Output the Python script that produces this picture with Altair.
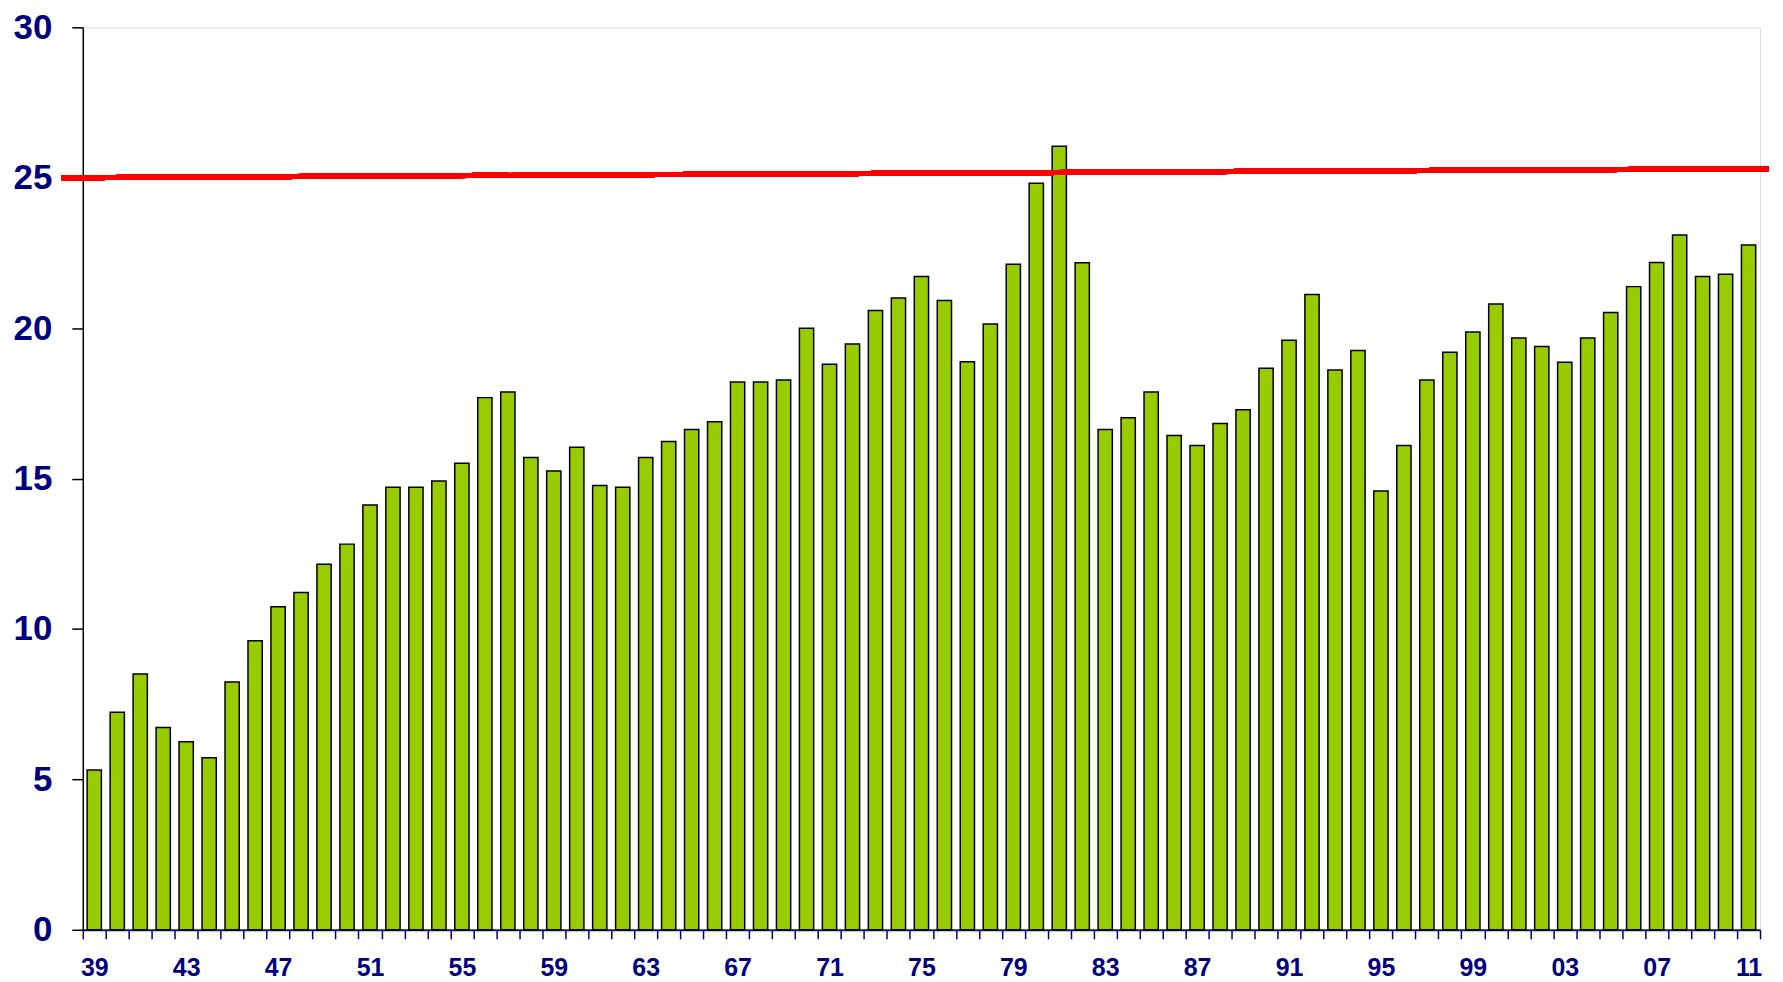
import json
import altair as alt
import pandas as pd

years = list(range(1939, 2012))
values = [
    5.31, 7.23, 8.50, 6.72, 6.25, 5.72, 8.24, 9.61, 10.74, 11.21,   # 39-48
    12.15, 12.82, 14.12, 14.71, 14.71, 14.92, 15.51, 17.69, 17.88, 15.70,  # 49-58
    15.25, 16.04, 14.77, 14.71, 15.70, 16.23, 16.63, 16.89, 18.21, 18.21,  # 59-68
    18.28, 20.00, 18.80, 19.47, 20.59, 21.00, 21.72, 20.92, 18.88, 20.14,  # 69-78
    22.12, 24.82, 26.05, 22.17, 16.63, 17.02, 17.88, 16.43, 16.10, 16.83,  # 79-88
    17.29, 18.67, 19.60, 21.12, 18.61, 19.26, 14.59, 16.10, 18.28, 19.20,  # 89-98
    19.87, 20.80, 19.67, 19.39, 18.87, 19.67, 20.52, 21.38, 22.18, 23.10,  # 99-08
    21.72, 21.79, 22.76,                                                    # 09-11
]
# x tick labels shown every fourth year (others blank)
x_labels = ["39", "", "", "", "43", "", "", "", "47", "", "", "", "51", "", "", "",
            "55", "", "", "", "59", "", "", "", "63", "", "", "", "67", "", "", "",
            "71", "", "", "", "75", "", "", "", "79", "", "", "", "83", "", "", "",
            "87", "", "", "", "91", "", "", "", "95", "", "", "", "99", "", "", "",
            "03", "", "", "", "07", "", "", "", "11", ""]
y_ticks = [0, 5, 10, 15, 20, 25, 30]
line_values = [25.0, 25.3]

W, H = 1682, 905
step = W / len(years)

df = pd.DataFrame({"year": years, "value": values, "base": [0] * len(years)})

x_ticks = [years[0] - 0.5 + k for k in range(len(years) + 1)]
label_expr = json.dumps(x_labels) + "[round(datum.value - " + str(years[0] - 0.5) + ")]"

navy = "#000080"
xscale = alt.Scale(domain=[years[0] - 0.5, years[-1] + 0.5], nice=False, zero=False)
yscale = alt.Scale(domain=[0, 30], nice=False)

bars = alt.Chart(df).transform_calculate(
    x0="datum.year - 0.31", x1="datum.year + 0.31"
).mark_bar(color="#99CC00", stroke="#000000", strokeWidth=1.5).encode(
    x=alt.X("x0:Q", scale=xscale, title="",
            axis=alt.Axis(values=x_ticks, labelExpr=label_expr, labelOffset=step / 2,
                          labelOverlap=False, labelFlush=False, labelBound=False,
                          grid=False, tickSize=9, tickColor=navy, tickWidth=1.5,
                          domainColor="#1a1a50", domainWidth=2,
                          labelFont="Liberation Sans", labelFontSize=25,
                          labelFontWeight="bold", labelColor=navy, labelPadding=17)),
    x2="x1:Q",
    y=alt.Y("value:Q", scale=yscale, title="",
            axis=alt.Axis(values=y_ticks, grid=False, tickSize=11, tickColor="#000000",
                          tickWidth=1.5, domainColor="#000000", domainWidth=1.5,
                          labelFont="Liberation Sans", labelFontSize=35,
                          labelFontWeight="bold", labelColor=navy, labelPadding=20)),
    y2="base:Q",
)

red_line = alt.Chart(df).mark_rule(color="#FF0000", strokeWidth=5).encode(
    x=alt.value(-21), x2=alt.value(W + 9),
    y=alt.datum(line_values[0]), y2=alt.datum(line_values[1]),
)

chart = alt.layer(bars, red_line).properties(
    width=W, height=H,
    autosize=alt.AutoSizeParams(type="none"),
    padding={"left": 75, "top": 18, "right": 15, "bottom": 50},
).configure_view(stroke=None).configure(background="white")

chart.save("out.html", embed_options={"renderer": "svg", "actions": False})
